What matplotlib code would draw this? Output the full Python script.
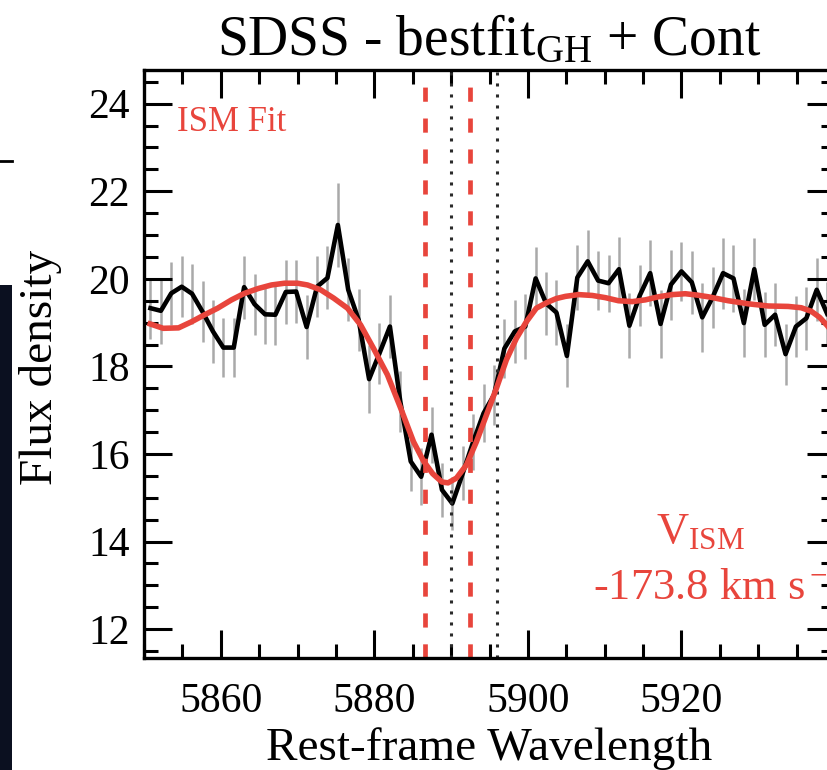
import matplotlib
matplotlib.use('Agg')
import matplotlib.pyplot as plt
from matplotlib.ticker import MultipleLocator, FixedLocator
from matplotlib.patches import Rectangle
from matplotlib.lines import Line2D
import numpy as np

plt.rcParams['font.family'] = ['Liberation Serif', 'DejaVu Serif']
plt.rcParams['mathtext.fontset'] = 'custom'
plt.rcParams['mathtext.rm'] = 'Liberation Serif'
plt.rcParams['mathtext.it'] = 'Liberation Serif:italic'
plt.rcParams['mathtext.bf'] = 'Liberation Serif:bold'

# ---------------- data ----------------
wave = [5850.84, 5852.20, 5853.55, 5854.91, 5856.26, 5857.62, 5858.98, 5860.33,
        5861.69, 5863.04, 5864.40, 5865.76, 5867.11, 5868.47, 5869.82, 5871.18,
        5872.54, 5873.89, 5875.25, 5876.60, 5877.96, 5879.32, 5880.67, 5882.03,
        5883.38, 5884.74, 5886.10, 5887.45, 5888.81, 5890.16, 5891.52, 5892.88,
        5894.23, 5895.59, 5896.94, 5898.30, 5899.66, 5901.01, 5902.37, 5903.72,
        5905.08, 5906.44, 5907.79, 5909.15, 5910.50, 5911.86, 5913.22, 5914.57,
        5915.93, 5917.28, 5918.64, 5920.00, 5921.35, 5922.71, 5924.06, 5925.42,
        5926.78, 5928.13, 5929.49, 5930.84, 5932.20, 5933.56, 5934.91, 5936.27,
        5937.62, 5938.98]
flux = [19.33, 19.27, 19.67, 19.82, 19.66, 19.25, 18.80, 18.43,
        18.43, 19.81, 19.42, 19.19, 19.18, 19.70, 19.71, 18.90,
        19.82, 20.02, 21.23, 19.75, 19.06, 17.71, 18.30, 18.91,
        17.20, 15.83, 15.48, 16.44, 15.18, 14.87, 15.56, 16.28,
        16.93, 17.35, 18.41, 18.80, 18.91, 20.01, 19.44, 19.23,
        18.24, 20.03, 20.40, 19.96, 19.90, 20.22, 18.93, 19.62,
        20.13, 18.97, 19.87, 20.17, 19.92, 19.12, 19.58, 20.13,
        20.01, 18.99, 20.22, 18.95, 19.18, 18.28, 18.91, 19.10,
        19.75, 19.20]
flux_err = [0.70, 0.75, 0.72, 0.70, 0.68, 0.70, 0.72, 0.68,
            0.68, 0.72, 0.70, 0.68, 0.70, 0.72, 0.72, 0.72,
            0.70, 0.72, 0.95, 0.72, 0.70, 0.78, 0.70, 0.72,
            0.70, 0.68, 0.65, 0.64, 0.62, 0.60, 0.62, 0.64,
            0.66, 0.68, 0.68, 0.72, 0.74, 0.72, 0.72, 0.74,
            0.72, 0.74, 0.72, 0.68, 0.65, 0.74, 0.74, 0.70,
            0.76, 0.78, 0.80, 0.68, 0.72, 0.78, 0.70, 0.81,
            0.76, 0.77, 0.71, 0.74, 0.72, 0.70, 0.70, 0.72,
            0.72, 0.72]

model_wave = [5850.8, 5852.5, 5854.5, 5856.2, 5857.9, 5859.6, 5861.4, 5863.1,
              5864.9, 5866.6, 5868.3, 5870.0, 5871.3, 5873.0, 5874.7, 5876.5,
              5878.2, 5879.9, 5881.7, 5883.4, 5885.1, 5886.4, 5887.6, 5888.8,
              5889.6, 5890.7, 5892.0, 5893.3, 5894.6, 5895.9, 5897.2, 5898.5,
              5899.8, 5901.1, 5902.5, 5903.7, 5904.9, 5906.6, 5908.4, 5910.1,
              5911.8, 5913.6, 5915.3, 5917.0, 5918.8, 5920.5, 5922.0, 5923.5,
              5926.1, 5928.7, 5931.3, 5933.9, 5935.6, 5936.9, 5938.0, 5939.0,
              5940.0]
model_flux = [18.97, 18.87, 18.88, 19.02, 19.18, 19.33, 19.52, 19.67,
              19.78, 19.86, 19.90, 19.90, 19.86, 19.75, 19.56, 19.33,
              18.95, 18.41, 17.81, 17.06, 16.28, 15.84, 15.55, 15.36,
              15.34, 15.45, 15.75, 16.28, 16.89, 17.50, 18.15, 18.64,
              19.02, 19.33, 19.46, 19.55, 19.60, 19.64, 19.62, 19.57,
              19.50, 19.48, 19.52, 19.59, 19.64, 19.66, 19.63, 19.59,
              19.50, 19.43, 19.38, 19.37, 19.34, 19.26, 19.12, 18.93,
              18.70]

na_rest = [5889.95, 5895.92]      # Na I D lines (dotted)
ism_lines = [5886.54, 5892.51]    # shifted ISM centroids (red dashed)
x_major_ticks = [5860, 5880, 5900, 5920]

title = r'SDSS - bestfit$_{\rm GH}$ + Cont'
xlabel = 'Rest-frame Wavelength'
ylabel = 'Flux density'
v_label = r'V$_{\rm ISM}$'
v_value = r'-173.8 km s$^{\rm -1}$'

# ---------------- figure ----------------
W, H = 827, 770
fig = plt.figure(figsize=(W / 100, H / 100), dpi=100)

def fx(x):
    return x / W

def fy(y):
    return 1 - y / H

ax = fig.add_axes([fx(144), fy(658), (835 - 144) / W, (658 - 70) / H])

red = '#e8453c'
ax.vlines(wave, np.array(flux) - np.array(flux_err), np.array(flux) + np.array(flux_err),
          color='#a9a9a9', lw=1.8, zorder=1)
ax.plot(wave, flux, color='black', lw=3.3, zorder=2)
ax.plot(model_wave, model_flux, color=red, lw=4.0, zorder=3)

ymin, ymax = 11.34, 24.77
for w in na_rest:
    ax.plot([w, w], [ymin, ymax], color='#2a2a2a', lw=2.2,
            linestyle=(0, (1.0, 2.6)), zorder=2)
for w in ism_lines:
    ax.plot([w, w], [ymin, ymax], color=red, lw=3.4,
            linestyle=(0, (3.0, 3.55)), zorder=2)

ax.set_xlim(5850, 5940)
ax.set_ylim(ymin, ymax)
ax.xaxis.set_major_locator(FixedLocator(x_major_ticks))
ax.xaxis.set_minor_locator(MultipleLocator(5))
ax.yaxis.set_major_locator(MultipleLocator(2))
ax.yaxis.set_minor_locator(MultipleLocator(0.5))
ax.tick_params(which='both', direction='in', top=True, right=True,
               width=2.2, labelsize=30)
ax.tick_params(which='major', length=20)
ax.tick_params(which='minor', length=10)
ax.tick_params(axis='y', pad=10)
ax.tick_params(axis='x', pad=18)
for s in ax.spines.values():
    s.set_linewidth(2.4)

# texts
fig.text(fx(489), fy(55), title, ha='center', va='baseline', fontsize=40)
fig.text(fx(489), fy(760), xlabel, ha='center', va='baseline', fontsize=34)
fig.text(fx(41), fy(367), ylabel, ha='center', va='center', rotation=90, fontsize=34)
fig.text(fx(177), fy(131), 'ISM Fit', ha='left', va='baseline', fontsize=25, color=red)
fig.text(fx(700), fy(543), v_label, ha='center', va='baseline', fontsize=32, color=red)
fig.text(fx(593), fy(599), v_value, ha='left', va='baseline', fontsize=32, color=red)

# fragment of neighbouring panel at the left edge
fig.patches.append(Rectangle((0, 0), fx(12), fy(285), transform=fig.transFigure,
                             facecolor='#0b1020', edgecolor='none', zorder=0))
fig.lines.append(Line2D([0, fx(12)], [fy(161), fy(161)], transform=fig.transFigure,
                        color='black', lw=2))

fig.savefig('out.png', dpi=100)
